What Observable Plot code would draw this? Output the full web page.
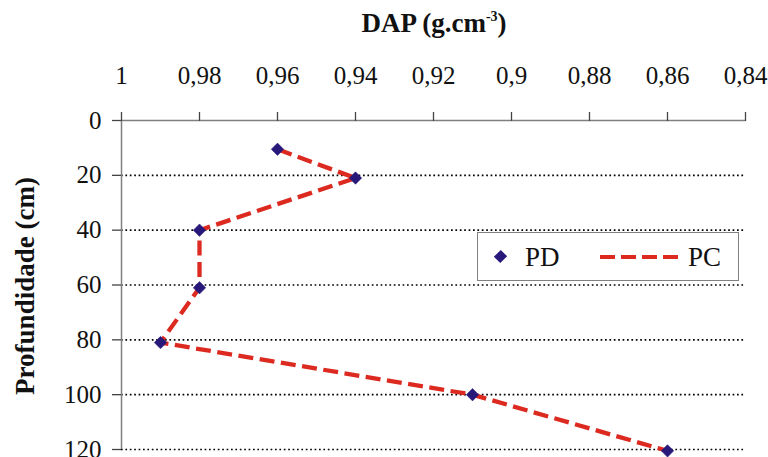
<!DOCTYPE html>
<html>
<head>
<meta charset="utf-8">
<script src="https://cdn.jsdelivr.net/npm/d3@7"></script>
<script src="https://cdn.jsdelivr.net/npm/@observablehq/plot@0.6"></script>
<style>
  html, body { margin: 0; padding: 0; background: #fff; }
  #wrap { position: relative; width: 768px; height: 457px; font-family: "Liberation Serif", "Times New Roman", serif; overflow: hidden; }
  #title { height: 42px; width: 768px; position: relative; }
  #title span { position: absolute; left: 434px; top: 8px; transform: translateX(-50%); font-size: 27px; font-weight: bold; white-space: nowrap; color: #111; }
  #title sup { font-size: 14px; vertical-align: 0; position: relative; top: -11px; }
  #ylabel { position: absolute; left: 25px; top: 286px; transform: translate(-50%, -50%) rotate(-90deg); font-size: 27px; font-weight: bold; white-space: nowrap; color: #111; }
  #legend { position: absolute; left: 477px; top: 232px; width: 260px; height: 47px; border: 1.5px solid #808080; background: #fff; }
  #legend .dia { position: absolute; left: 18px; top: 19px; width: 9px; height: 9px; background: #27187a; transform: rotate(45deg) scaleY(1.08); }
  #legend .t { position: absolute; font-size: 27px; line-height: 27px; color: #111; }
  #legend .dash { position: absolute; left: 122px; top: 21.5px; width: 78px; height: 4.3px;
    background: repeating-linear-gradient(90deg, #dd2a20 0 15px, transparent 15px 21px); }
  #chart svg text { font-family: "Liberation Serif", "Times New Roman", serif; }
</style>
</head>
<body>
<div id="wrap">
  <div id="title"><span>DAP (g.cm<sup>-3</sup>)</span></div>
  <div id="chart"></div>
  <div id="ylabel">Profundidade (cm)</div>
  <div id="legend">
    <div class="dia"></div>
    <div class="t" style="left:47px; top:11px;">PD</div>
    <div class="dash"></div>
    <div class="t" style="left:210px; top:11px;">PC</div>
  </div>
</div>
<script>
// Data
const depth = [10.5, 21, 40, 61, 81, 100, 120.5];
const dap = [0.96, 0.94, 0.98, 0.98, 0.99, 0.91, 0.86];
const xTicks = [1, 0.98, 0.96, 0.94, 0.92, 0.90, 0.88, 0.86, 0.84];
const yTicks = [0, 20, 40, 60, 80, 100, 120];
const gridTicks = [20, 40, 60, 80, 100, 120];

const data = depth.map((d, i) => ({depth: d, dap: dap[i]}));
const fmt = d => String(d).replace(".", ",");
const FONT = "'Liberation Serif', 'Times New Roman', serif";

const plot = Plot.plot({
  width: 768,
  height: 415,
  marginTop: 78,
  marginLeft: 121,
  marginRight: 23,
  marginBottom: 8,
  style: { fontFamily: FONT, background: "transparent", color: "#111", overflow: "visible" },
  x: { domain: [1, 0.84] },
  y: { domain: [0, 120], reverse: true },
  marks: [
    Plot.gridY(gridTicks, { stroke: "#000", strokeOpacity: 1, strokeWidth: 1.7, strokeDasharray: "1.7,2.7" }),
    Plot.ruleY([0], { stroke: "#808080", strokeWidth: 1.5 }),
    Plot.ruleX([1], { stroke: "#808080", strokeWidth: 1.5 }),
    Plot.axisX(xTicks, { anchor: "top", tickSize: 9, tickPadding: 28, tickFormat: fmt, fontSize: 25, fontFamily: FONT, fontVariant: "normal", stroke: "#444", strokeWidth: 1.3, label: null }),
    Plot.axisY(yTicks, { anchor: "left", tickSize: 9, tickPadding: 11, fontSize: 25, fontFamily: FONT, fontVariant: "normal", stroke: "#444", strokeWidth: 1.3, label: null }),
    Plot.line(data, { x: "dap", y: "depth", stroke: "#dd2a20", strokeWidth: 4.3, strokeDasharray: "15,6.5", strokeLinecap: "butt", strokeLinejoin: "round" }),
    Plot.dot(data, { x: "dap", y: "depth", symbol: "diamond2", r: 5.6, fill: "#27187a", stroke: "#27187a", strokeWidth: 0.5, clip: false })
  ]
});
document.getElementById("chart").appendChild(plot);
</script>
</body>
</html>
